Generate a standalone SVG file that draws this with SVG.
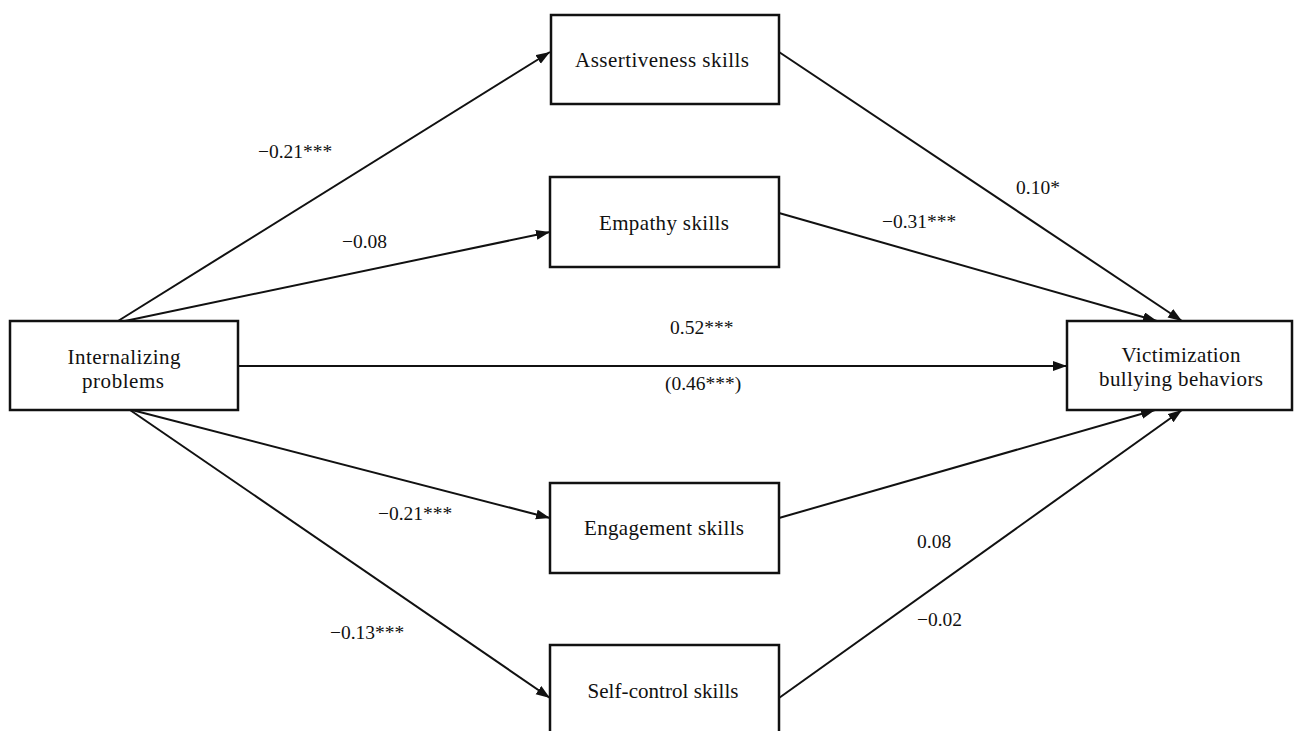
<svg xmlns="http://www.w3.org/2000/svg" width="1294" height="731" viewBox="0 0 1294 731">
<style>
.box{fill:#fff;stroke:#111;stroke-width:2.5}
.t{font-family:"Liberation Serif","Times New Roman",serif;font-size:21px;fill:#111;text-anchor:middle}
.l{font-family:"Liberation Serif","Times New Roman",serif;font-size:19.5px;fill:#111}
.c{stroke:#111;stroke-width:2;fill:none;marker-end:url(#ah)}
</style>
<defs>
<marker id="ah" markerUnits="userSpaceOnUse" markerWidth="16" markerHeight="12" refX="14" refY="5" orient="auto">
<path d="M0,0 L14,5 L0,10 Z" fill="#111"/>
</marker>
</defs>
<rect width="1294" height="731" fill="#fff"/>
<g id="connectors">
<line class="c" x1="118" y1="321" x2="550" y2="52"/>
<line class="c" x1="125" y1="321" x2="550" y2="232"/>
<line class="c" x1="238" y1="366" x2="1067" y2="366"/>
<line class="c" x1="132" y1="410" x2="550" y2="518"/>
<line class="c" x1="130" y1="410" x2="550" y2="698"/>
<line class="c" x1="779" y1="52" x2="1182" y2="321"/>
<line class="c" x1="779" y1="213" x2="1157" y2="321"/>
<line class="c" x1="779" y1="518" x2="1155" y2="410"/>
<line class="c" x1="779" y1="698" x2="1182" y2="410"/>
</g>
<g id="labels">
<text class="l" x="258" y="158">−0.21***</text>
<text class="l" x="342" y="248">−0.08</text>
<text class="l" x="1016" y="194">0.10*</text>
<text class="l" x="882" y="228">−0.31***</text>
<text class="l" x="670" y="334">0.52***</text>
<text class="l" x="665" y="390">(0.46***)</text>
<text class="l" x="378" y="520">−0.21***</text>
<text class="l" x="917" y="548">0.08</text>
<text class="l" x="330" y="639">−0.13***</text>
<text class="l" x="917" y="626">−0.02</text>
</g>
<g id="node-internalizing">
<rect class="box" x="10" y="321" width="228" height="89"/>
<text class="t" x="124" y="364" textLength="113" lengthAdjust="spacing">Internalizing</text>
<text class="t" x="123" y="388" textLength="82" lengthAdjust="spacing">problems</text>
</g>
<g id="node-assertiveness">
<rect class="box" x="551" y="15" width="228" height="89"/>
<text class="t" x="662" y="67" textLength="174" lengthAdjust="spacing">Assertiveness skills</text>
</g>
<g id="node-empathy">
<rect class="box" x="550" y="177" width="229" height="90"/>
<text class="t" x="664" y="230" textLength="130" lengthAdjust="spacing">Empathy skills</text>
</g>
<g id="node-engagement">
<rect class="box" x="550" y="483" width="229" height="90"/>
<text class="t" x="664" y="535" textLength="160" lengthAdjust="spacing">Engagement skills</text>
</g>
<g id="node-selfcontrol">
<rect class="box" x="550" y="645" width="229" height="90"/>
<text class="t" x="663" y="698" textLength="151" lengthAdjust="spacing">Self-control skills</text>
</g>
<g id="node-victimization">
<rect class="box" x="1067" y="321" width="225" height="89"/>
<text class="t" x="1181" y="362" textLength="119" lengthAdjust="spacing">Victimization</text>
<text class="t" x="1181" y="386" textLength="164" lengthAdjust="spacing">bullying behaviors</text>
</g>
</svg>
